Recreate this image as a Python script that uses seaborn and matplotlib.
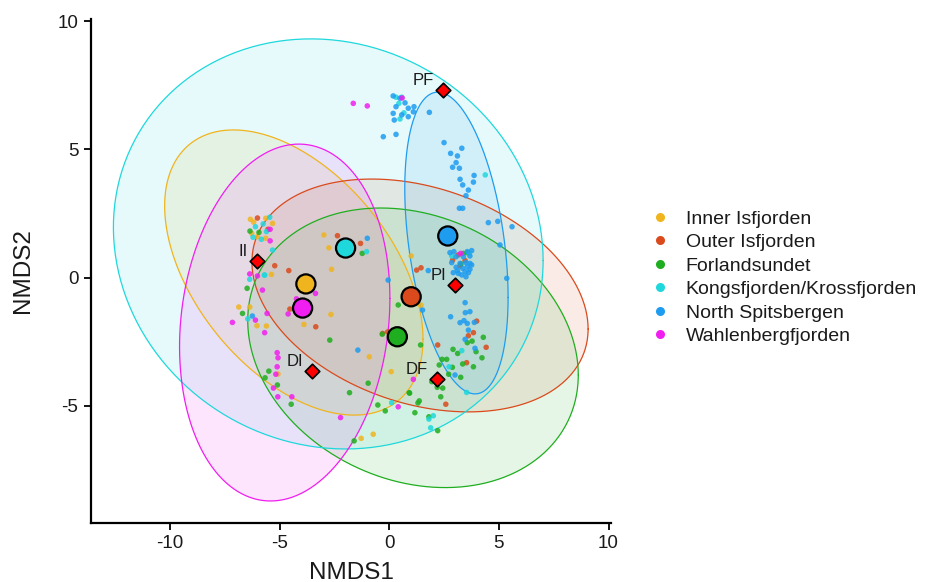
import numpy as np
import pandas as pd
import matplotlib
matplotlib.use("Agg")
import matplotlib.pyplot as plt
import seaborn as sns
from matplotlib.lines import Line2D

# ---------------- data ----------------
groups = ["Inner Isfjorden", "Outer Isfjorden", "Forlandsundet",
          "Kongsfjorden/Krossfjorden", "North Spitsbergen", "Wahlenbergfjorden"]
colors = ["#F0B41E", "#DA4A1C", "#1FAE1F", "#1ED8DC", "#1E9CF0", "#F01EF0"]

inner_x = [-6.33, -6.18, -5.63, -5.32, -6.27, -5.63, -6.01, -2.98, -2.75, -2.63, -5.37, -6.86,
           -6.36, -6.03, -5.60, -2.66, -3.89, -5.07, 1.00, 1.45, -0.91, 0.09, -0.73, -1.28]
inner_y = [2.27, 2.16, 2.31, 2.11, 1.72, 1.53, 1.59, 1.66, 1.16, 0.32, 0.12, -1.15,
           -1.15, -1.88, -1.89, -1.44, -1.83, -3.76, 0.84, -1.08, -3.09, -3.67, -6.11, -6.27]

outer_x = [-6.01, -5.53, -2.36, -1.31, -4.58, -5.22, -4.53, -3.35, 1.25, 1.45, -0.07, -0.30,
           3.15, 2.89, 3.46, 3.23, 3.99, 3.84, 3.61, 4.42, 3.53, 2.21, 2.58]
outer_y = [2.32, 1.88, 1.63, 1.33, 0.27, 0.46, -1.23, -1.92, 0.29, 0.38, -2.12, -2.18,
           0.88, 0.68, 0.66, 0.45, -1.70, -2.15, -2.27, -2.72, -3.32, -2.63, -4.94]

forl_x = [-6.35, -5.94, -1.23, -6.48, -6.69, -2.71, -5.49, -5.66, -5.10, -4.47, -1.81, -1.60,
          0.41, -0.32, -0.96, 0.91, -0.18, 1.43, 3.56, 3.38, 3.27, 4.29, 3.78, 3.56, 3.96,
          2.91, 3.12, 4.23, 2.41, 2.62, 2.28, 2.88, 3.35, 3.84, 2.71, 3.26, 1.94, 2.19, 2.44,
          2.35, 0.93, 1.37, 1.31, -0.52, 1.17, 1.81, 2.21]
forl_y = [1.81, 1.76, 0.94, -0.42, -1.40, -2.44, -3.65, -3.91, -4.19, -4.94, -4.49, -6.37,
          -1.07, -2.21, -4.12, -4.49, -5.20, -2.63, 0.97, 0.94, 0.53, -2.33, -2.48, -2.54, -2.89,
          -2.80, -2.96, -3.13, -3.19, -3.19, -3.41, -3.50, -3.37, -3.48, -3.77, -3.89, -4.06, -4.28, -4.31,
          -4.65, -4.51, -4.81, -4.89, -4.97, -5.27, -5.43, -5.97]

kong_x = [0.31, 0.57, 0.44, 0.67, 0.49, 4.38, -6.10, -5.75, -5.45, -5.60, -5.83, -6.21, -5.32,
          -5.68, -6.36, -5.69, -6.45, -1.03, 3.65, 2.85, 3.31, 2.73, 3.53, 0.11, 2.01, 1.81, 1.89]
kong_y = [7.03, 7.03, 6.79, 6.42, 6.18, 4.00, 1.98, 2.09, 2.35, 1.79, 1.49, 1.57, 1.07,
          0.10, -0.07, 0.09, -1.61, 1.01, 0.94, 0.84, -2.85, -3.48, -4.48, -4.88, -5.39, -5.52, -5.86]

north_x = [0.18, 0.49, 0.72, 0.31, 0.87, 1.13, 0.18, 0.57, 0.87, 1.10, 0.23, 1.83, -0.27, 0.31,
           2.50, 2.80, 3.11, 3.31, 3.05, 3.20, 2.89, 3.87, 3.23, 3.35, 3.84, 3.61, 3.50, 3.20, 3.35,
           4.52, 4.95, 5.60, 5.05, 5.36,
           2.77, 2.95, 3.56, 3.76, 3.05, 3.38, 3.68, 2.85, 3.23, 3.50, 3.68, 3.05, 3.35, 3.56, 3.76,
           2.92, 3.15, 3.46, 3.61, 3.31, 3.50, 3.68, 3.11,
           3.46, 3.47, 3.68, 2.80, 3.23, 3.41, 3.56, 3.88, 3.61, 3.46, 3.91, 3.00,
           -1.43, -0.05, 1.78, 1.52, -1.00, -6.24]
north_y = [7.08, 6.99, 6.81, 6.66, 6.60, 6.66, 6.40, 6.34, 6.27, 6.46, 6.14, 6.44, 5.49, 5.58,
           5.26, 4.84, 4.74, 5.04, 4.48, 4.26, 4.30, 3.98, 3.83, 3.61, 3.72, 3.41, 3.19, 2.70, 2.70,
           2.14, 2.19, 1.98, 1.27, -0.03,
           0.97, 1.01, 1.01, 1.05, 0.81, 0.81, 0.84, 0.58, 0.55, 0.58, 0.55, 0.40, 0.36, 0.42, 0.49,
           0.19, 0.16, 0.23, 0.19, 0.10, 0.03, 0.32, 0.27,
           -0.98, -1.37, -1.33, -1.53, -1.76, -1.68, -1.79, -1.75, -2.05, -2.41, -2.76, -3.80,
           -2.83, -0.10, 0.27, -1.27, 1.53, -1.50]

wahl_x = [-1.64, -1.00, 0.59, -5.43, -5.43, -6.36, -6.01, -5.78, -3.36, -4.23, -4.61, -5.57,
          -6.10, -7.15, -5.68, -5.11, -5.07, -5.11, -5.17, -5.28, -5.08, -4.44, -2.22, 3.26, 1.10, 0.41]
wahl_y = [6.79, 6.69, 7.00, 1.88, 1.43, 0.14, 0.06, -0.49, -0.62, -0.83, -1.42, -1.40,
          -1.66, -1.75, -2.15, -2.93, -3.13, -3.48, -3.77, -4.31, -4.65, -4.65, -5.46, 0.94, -3.97, -5.04]

# group centroids
cent_x = [-3.80, 1.00, 0.37, -1.99, 2.67, -3.95]
cent_y = [-0.25, -0.75, -2.31, 1.15, 1.62, -1.19]

# ellipse parameters (centre and covariance-type matrix entries)
ell_cx = [-4.35, 1.405, 1.085, -2.78, 3.065, -4.765]
ell_cy = [0.195, -0.70, -2.74, 1.31, 1.345, -1.755]
ell_sxx = [34.7, 58.75, 56.8, 96.0, 5.55, 23.0]
ell_syy = [30.9, 20.6, 29.7, 63.9, 34.6, 48.4]
ell_sxy = [-15.3, -10.0, -8.0, -6.35, -5.0, 4.5]

# reference stations
st_labels = ["PF", "PI", "II", "DI", "DF"]
st_x = [2.44, 3.01, -6.03, -3.51, 2.18]
st_y = [7.31, -0.29, 0.65, -3.65, -3.96]

# ---------------- build table ----------------
xs = [inner_x, outer_x, forl_x, kong_x, north_x, wahl_x]
ys = [inner_y, outer_y, forl_y, kong_y, north_y, wahl_y]
df = pd.concat([pd.DataFrame({"NMDS1": x, "NMDS2": y, "Region": g})
                for g, x, y in zip(groups, xs, ys)], ignore_index=True)
cent = pd.DataFrame({"NMDS1": cent_x, "NMDS2": cent_y, "Region": groups})
stations = pd.DataFrame({"NMDS1": st_x, "NMDS2": st_y, "Station": st_labels})
palette = dict(zip(groups, colors))

# ---------------- plot ----------------
sns.set_style("ticks")
plt.rcParams["font.family"] = ["Liberation Sans", "DejaVu Sans"]
plt.rcParams["axes.unicode_minus"] = False

fig = plt.figure(figsize=(9.35, 5.82), dpi=100)
ax = fig.add_axes([0.0973, 0.1014, 0.5561, 0.866])

t = np.linspace(0, 2 * np.pi, 300)
circle = np.vstack([np.cos(t), np.sin(t)])
for g, cx, cy, sxx, syy, sxy in zip(groups, ell_cx, ell_cy, ell_sxx, ell_syy, ell_sxy):
    L = np.linalg.cholesky(np.array([[sxx, sxy], [sxy, syy]]))
    pts = L @ circle
    ex = cx + pts[0]
    ey = cy + pts[1]
    ax.fill(ex, ey, color=palette[g], alpha=0.11, lw=0, zorder=1)
    ax.plot(ex, ey, color=palette[g], lw=0.9, zorder=1.5)

sns.scatterplot(data=df, x="NMDS1", y="NMDS2", hue="Region", hue_order=groups,
                palette=palette, s=16, linewidth=0, alpha=0.85, legend=False,
                ax=ax, zorder=2)
sns.scatterplot(data=cent, x="NMDS1", y="NMDS2", hue="Region", hue_order=groups,
                palette=palette, s=190, edgecolor="black", linewidth=1.6,
                legend=False, ax=ax, zorder=3)
sns.scatterplot(data=stations, x="NMDS1", y="NMDS2", marker="D", color="#FF0000",
                s=55, edgecolor="black", linewidth=1.2, legend=False, ax=ax, zorder=4)
for lab, x, y in zip(st_labels, st_x, st_y):
    ax.annotate(lab, (x, y), xytext=(-6.5, 3.5), textcoords="offset points",
                ha="right", va="baseline", fontsize=12, color="#1a1a1a", zorder=5)

ax.set_xlim(-13.6, 10.11)
ax.set_ylim(-9.57, 10.08)
ax.set_xticks([-10, -5, 0, 5, 10])
ax.set_yticks([-5, 0, 5, 10])
ax.tick_params(axis="both", labelsize=13.5, length=5, width=1.3, color="black",
               labelcolor="#1a1a1a", pad=4)
for side in ["top", "right"]:
    ax.spines[side].set_visible(False)
for side in ["left", "bottom"]:
    ax.spines[side].set_linewidth(1.6)
    ax.spines[side].set_color("black")
ax.set_xlabel("NMDS1", fontsize=17.5, color="#1a1a1a")
ax.set_ylabel("NMDS2", fontsize=17.5, color="#1a1a1a")
ax.xaxis.set_label_coords(0.5, -0.077)
ax.yaxis.set_label_coords(-0.11, 0.5)

handles = [Line2D([0], [0], marker="o", linestyle="none", markersize=6.5,
                  markerfacecolor=c, markeredgewidth=0) for c in colors]
fig.legend(handles, groups, loc="center left", bbox_to_anchor=(0.698, 0.523),
           frameon=False, fontsize=14, handlelength=0.8, handletextpad=0.9,
           labelspacing=0.3, borderpad=0, borderaxespad=0, labelcolor="#1a1a1a")

fig.savefig("out.png", dpi=100)
